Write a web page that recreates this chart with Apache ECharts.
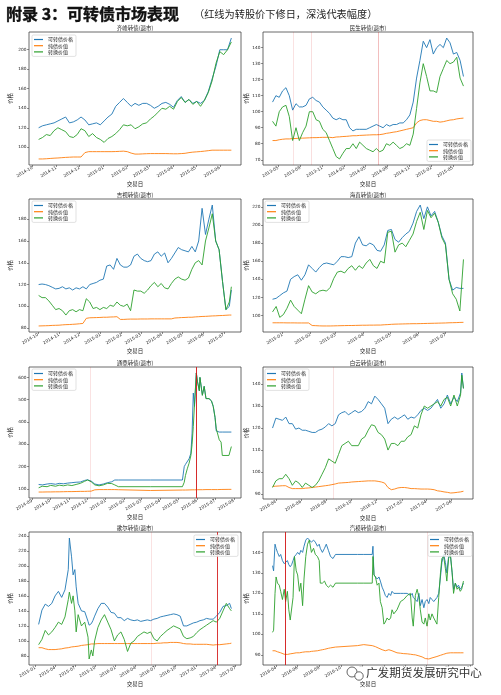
<!DOCTYPE html>
<html><head><meta charset="utf-8">
<script src="https://cdn.jsdelivr.net/npm/echarts@6/dist/echarts.min.js"></script>
<style>html,body{margin:0;padding:0;background:#fff;}#c{width:501px;height:695px;}</style>
</head><body><div id="c"></div>
<script>
// ---------------- DATA ----------------
const seriesNames = ['可转债价格', '纯债价值', '转换价值'];

// Chart 1
const c1Title = '齐峰转债(退市)';
const c1Dates = ['2014-10-09','2014-10-14','2014-10-19','2014-10-24','2014-10-29','2014-11-03','2014-11-08','2014-11-13','2014-11-18','2014-11-23','2014-11-28','2014-12-03','2014-12-08','2014-12-13','2014-12-18','2014-12-23','2014-12-28','2015-01-02','2015-01-07','2015-01-12','2015-01-17','2015-01-22','2015-01-27','2015-02-01','2015-02-06','2015-02-11','2015-02-16','2015-02-21','2015-02-26','2015-03-03','2015-03-08','2015-03-13','2015-03-18','2015-03-23','2015-03-28','2015-04-02','2015-04-07','2015-04-12','2015-04-17','2015-04-22','2015-04-27','2015-05-02','2015-05-07','2015-05-12','2015-05-17','2015-05-22','2015-05-27','2015-06-01','2015-06-06','2015-06-11','2015-06-16'];
const c1Cb = [120,122,123,124,125,127,129,131,125,126,128,131,128,123,124,125,123,127,131,134,142,146,150,146,142,145,143,145,145,143,140,142,145,146,144,141,148,152,146,149,145,147,145,148,157,170,183,200,200,200,212];
const c1Bond = [88,88,88.2,88.5,88.8,89,89.3,89.6,89.8,90,90,90,94.5,95.5,95.5,95.5,95.5,95.5,95.5,95.5,95.6,95.8,96,95.5,94,93,93,93.2,93.4,93.5,93.5,93.5,93.5,93.5,93.4,93.3,93.3,93.5,93.8,94.5,95,95.3,95.6,96,96.5,97,97,97,97,97,97];
const c1Conv = [108,110,113,112,117,120,118,116,111,110,113,119,117,111,114,110,108,105,109,111,114,118,123,122,123,119,121,124,125,129,132,136,140,139,142,139,147,151,146,149,144,147,142,148,156,168,186,198,195,200,208];
const c1XTicks = ['2014-10','2014-11','2014-12','2015-01','2015-02','2015-03','2015-04','2015-05','2015-06'];
const c1YTicks = [100,120,140,160,180,200];
const c1Resets = [];

// Chart 2
const c2Title = '民生转债(退市)';
const c2Dates = ['2013-04-07','2013-04-21','2013-05-05','2013-05-19','2013-06-02','2013-06-16','2013-06-30','2013-07-14','2013-07-28','2013-08-11','2013-08-25','2013-09-08','2013-09-22','2013-10-06','2013-10-20','2013-11-03','2013-11-17','2013-12-01','2013-12-15','2013-12-29','2014-01-12','2014-01-26','2014-02-09','2014-02-23','2014-03-09','2014-03-23','2014-04-06','2014-04-20','2014-05-04','2014-05-18','2014-06-01','2014-06-15','2014-06-29','2014-07-13','2014-07-27','2014-08-10','2014-08-24','2014-09-07','2014-09-21','2014-10-05','2014-10-19','2014-11-02','2014-11-16','2014-11-30','2014-12-14','2014-12-28','2015-01-11','2015-01-25','2015-02-08','2015-02-22','2015-03-08','2015-03-22','2015-04-05','2015-04-19','2015-05-03','2015-05-17','2015-05-31','2015-06-14'];
const c2Cb = [106,110,109,113,115,110,101,105,103,103,104,108,109,107,106,103,101,99,96,95,96,95,95,90,88,89,89,89,89,90,91,92,91,90,92,91,92,92,93,93,95,98,106,121,132,144,140,145,136,140,142,140,146,143,136,137,132,122];
const c2Bond = [82,82,82.5,82.8,83,83,83.2,83.3,83.5,83.5,83.6,83.7,83.8,83.8,83.9,84,84,84,83.8,84.2,84.3,84.5,84.6,84.8,85,85,85.2,85.3,85.4,85.5,85.6,85.6,85.7,86,86.5,86.8,87.2,87.5,88,88.5,89,89.5,90,93,94.5,95,95,94.5,94,94,93.5,93.8,94.3,94.8,95,95.5,95.8,96];
const c2Conv = [94,91,100,103,104,97,82,90,82,87,91,100,100,95,94,89,87,82,77,72,70.5,74,77,77,80,77,81,79,77,76,75,77,75,76,80,79,81,79,77,78,80,79,86,102,118,130,122,113,113,112,122,127,132,130,131,134,121,116];
const c2XTicks = ['2013-05','2013-08','2013-11','2014-02','2014-05','2014-08','2014-11','2015-02','2015-05','2015-08'];
const c2YTicks = [70,80,90,100,110,120,130,140];
const c2Resets = [['2013-07-03',0.12],['2013-09-14',0.14],['2014-06-24',0.28]];

// Chart 3
const c3Title = '吉视转债(退市)';
const c3Dates = ['2014-10-02','2014-10-07','2014-10-12','2014-10-17','2014-10-22','2014-10-27','2014-11-01','2014-11-06','2014-11-11','2014-11-16','2014-11-21','2014-11-26','2014-12-01','2014-12-06','2014-12-11','2014-12-16','2014-12-21','2014-12-26','2014-12-31','2015-01-05','2015-01-10','2015-01-15','2015-01-20','2015-01-25','2015-01-30','2015-02-04','2015-02-09','2015-02-14','2015-02-19','2015-02-24','2015-03-01','2015-03-06','2015-03-11','2015-03-16','2015-03-21','2015-03-26','2015-03-31','2015-04-05','2015-04-10','2015-04-15','2015-04-20','2015-04-25','2015-04-30','2015-05-05','2015-05-10','2015-05-15','2015-05-20','2015-05-25','2015-05-30','2015-06-04','2015-06-09','2015-06-14','2015-06-19','2015-06-24','2015-06-29','2015-07-04','2015-07-09','2015-07-12'];
const c3Cb = [120,120.5,120,119,117.5,116,116.5,118,116,117,115,117,116,118,116,120,121,122,124,125,137,138,134,144,138,136,136,138,146,148,144,142,141,142,148,150,146,149,140,144,149,154,152,151,150,155,150,160,190,166,180,193,160,152,123,97,100,115];
const c3Bond = [82,82.1,82.2,82.3,82.5,82.6,82.7,83,83.2,83.3,83.5,83.7,84,84.3,89,89.5,89.6,89.7,89.8,90,90,90.2,90.3,90.5,88,88,88.2,88.3,88.3,88.3,88.4,88.4,88.4,88.5,88.5,88.5,88.5,88.5,88.5,88.5,89.3,89.5,89.7,89.8,90,90,90.3,90.5,90.7,90.8,91,91.2,91.3,91.5,91.6,91.8,92,92];
const c3Conv = [110,108,108,105,101,97,98,96,92,96,97,95,97,96,107,104,98,99,97,99,98,101,100,104,101,100,102,96,115,114,114,112,115,119,122,118,121,117,116,121,125,127,125,124,126,134,140,142,138,160,172,185,160,152,123,97,104,118];
const c3XTicks = ['2014-10','2014-11','2014-12','2015-01','2015-02','2015-03','2015-04','2015-05','2015-06','2015-07'];
const c3YTicks = [80,100,120,140,160,180];
const c3Resets = [];

// Chart 4
const c4Title = '海直转债(退市)';
const c4Dates = ['2014-12-21','2014-12-25','2014-12-29','2015-01-02','2015-01-06','2015-01-10','2015-01-14','2015-01-18','2015-01-22','2015-01-26','2015-01-30','2015-02-03','2015-02-07','2015-02-11','2015-02-15','2015-02-19','2015-02-23','2015-02-27','2015-03-03','2015-03-07','2015-03-11','2015-03-15','2015-03-19','2015-03-23','2015-03-27','2015-03-31','2015-04-04','2015-04-08','2015-04-12','2015-04-16','2015-04-20','2015-04-24','2015-04-28','2015-05-02','2015-05-06','2015-05-10','2015-05-14','2015-05-18','2015-05-22','2015-05-26','2015-05-30','2015-06-03','2015-06-07','2015-06-11','2015-06-15','2015-06-19','2015-06-23','2015-06-27','2015-07-01','2015-07-05','2015-07-09','2015-07-13','2015-07-17','2015-07-21'];
const c4Cb = [118,119,122,125,127,140,143,145,139,145,156,152,148,153,157,158,157,156,160,165,165,164,165,180,187,178,177,180,178,172,171,178,194,195,184,181,186,190,193,202,215,222,207,220,210,215,203,188,180,140,128,131,130,130];
const c4Bond = [92,92,92,92,91.9,91.9,91.9,91.8,91.8,91.8,91.8,89,88.8,88.6,88.5,88.5,88.5,88.6,88.7,88.8,88.9,89,89,89.1,89.2,89.3,89.3,89.4,89.4,89.5,89.5,89.8,90,90.3,90.5,90.6,90.7,90.8,90.9,91,91,91.1,91.2,91.3,91.4,91.5,91.6,91.7,91.8,92,92.1,92.2,92.4,92.5];
const c4Conv = [104,110,98,101,108,117,110,106,102,118,133,126,124,127,128,127,131,141,148,149,147,152,155,150,155,152,158,162,155,152,160,158,192,193,170,178,180,176,183,190,204,214,195,216,208,213,203,186,178,140,124,118,105,162];
const c4XTicks = ['2015-01','2015-02','2015-03','2015-04','2015-05','2015-06','2015-07'];
const c4YTicks = [100,120,140,160,180,200,220];
const c4Resets = [];

// Chart 5
const c5Title = '通鼎转债(退市)';
const c5Dates = ['2014-09-12','2014-09-18','2014-09-26','2014-10-02','2014-10-10','2014-10-16','2014-10-23','2014-10-30','2014-11-06','2014-11-13','2014-11-20','2014-11-27','2014-12-02','2014-12-08','2014-12-14','2014-12-21','2014-12-28','2015-01-04','2015-01-11','2015-01-16','2015-01-22','2015-03-16','2015-05-08','2015-05-11','2015-05-13','2015-05-16','2015-05-19','2015-05-22','2015-05-24','2015-05-26','2015-05-28','2015-05-31','2015-06-02','2015-06-05','2015-06-06','2015-06-10','2015-06-13','2015-06-16','2015-06-21','2015-06-25','2015-06-28','2015-07-01','2015-07-03','2015-07-05','2015-07-08','2015-07-11','2015-07-13','2015-07-24','2015-07-28'];
const c5Cb = [120,118,122,124,121,125,123,126,128,130,131,138,141,135,122,118,122,128,132,140,140,140,140,200,210,218,235,260,350,530,470,620,580,540,600,520,560,505,505,495,470,420,360,355,355,355,355,355,355];
const c5Bond = [86,86,86.5,86.5,87,87,87.5,88,88,88.5,89,89,89.5,90,96,97,97,97,97,97,96.5,93,95,95,95,95.5,95.5,96,96,96,96,96.5,96.5,96.5,96.5,96.5,97,97,97,97,97,97,97,97,97.5,97.5,97.5,98,98];
const c5Conv = [105,112,110,116,112,117,114,118,115,120,125,134,140,132,118,114,118,125,124,118,110,110,110,130,160,190,215,250,300,380,480,620,580,540,600,520,560,505,505,495,470,420,370,378,320,310,250,250,290];
const c5XTicks = ['2014-09','2014-10','2014-11','2014-12','2015-01','2015-02','2015-03','2015-04','2015-05','2015-06','2015-07','2015-08'];
const c5YTicks = [100,200,300,400,500,600];
const c5Resets = [['2014-12-07',0.12],['2015-05-31',0.9]];

// Chart 6
const c6Title = '白云转债(退市)';
const c6Dates = ['2016-03-24','2016-04-01','2016-04-09','2016-04-17','2016-04-25','2016-05-03','2016-05-11','2016-05-19','2016-05-27','2016-06-04','2016-06-12','2016-06-20','2016-06-28','2016-07-06','2016-07-14','2016-07-22','2016-07-30','2016-08-07','2016-08-15','2016-08-23','2016-08-31','2016-09-08','2016-09-16','2016-09-24','2016-10-02','2016-10-10','2016-10-18','2016-10-26','2016-11-03','2016-11-11','2016-11-19','2016-11-27','2016-12-05','2016-12-13','2016-12-21','2016-12-29','2017-01-06','2017-01-14','2017-01-22','2017-01-30','2017-02-07','2017-02-15','2017-02-23','2017-03-03','2017-03-11','2017-03-19','2017-03-27','2017-04-04','2017-04-12','2017-04-20','2017-04-28','2017-05-06','2017-05-14','2017-05-22','2017-05-30','2017-06-07','2017-06-15','2017-06-23','2017-06-26','2017-06-30'];
const c6Cb = [120,124.5,124,123.5,125,122,122,119.5,120,119,119,118.5,118,118,119,119.5,120.5,122,121,122,126,127,127.5,126,127,128,127,127.5,129,132,131,134.5,133,131,129,122,124,125,124,125,126,124,125,124.5,126,128,129,128,129,131,133,129,131,135,131,134,132,136,145,138];
const c6Bond = [93.5,93.6,93.7,93.8,93.8,93,92.5,92.5,92.5,92.5,92.7,92.8,93,93.2,93.4,93.6,93.8,94,94.3,94.6,95,95.1,95.2,95.3,95.5,95.6,95.7,95.8,95.9,96,96,96,95.8,95.5,95,93,92,92.3,92.8,93,93,92.8,92.5,92.5,92.4,92.3,92.3,92.3,92.2,92,91.5,91.3,91,90.8,90.5,90.6,90.8,91,91.2,91.3];
const c6Conv = [93,96,97,97,99,97,94,96,95,93,95,94,93,94,96,99,102,106,105,104,108,112,113,114,112,112,112,115,116,119,121.5,121,118,117,115,110,113,113,112,114,114,116,117,121,120,126,130,129,130,131,132,130,133,134,130,135,130,135,144,138];
const c6XTicks = ['2016-04','2016-06','2016-08','2016-10','2016-12','2017-02','2017-04','2017-06'];
const c6YTicks = [90,100,110,120,130,140];
const c6Resets = [['2016-08-19',0.13]];

// Chart 7
const c7Title = '歌尔转债(退市)';
const c7Dates = ['2015-01-16','2015-01-31','2015-02-15','2015-03-02','2015-03-17','2015-04-01','2015-04-16','2015-05-01','2015-05-16','2015-05-31','2015-06-05','2015-06-15','2015-06-22','2015-06-30','2015-07-06','2015-07-15','2015-07-30','2015-08-14','2015-08-29','2015-09-03','2015-09-13','2015-09-20','2015-09-28','2015-10-13','2015-10-28','2015-11-12','2015-11-27','2015-12-12','2015-12-27','2016-01-11','2016-01-26','2016-02-10','2016-02-25','2016-03-11','2016-03-26','2016-04-10','2016-04-25','2016-05-10','2016-05-25','2016-06-09','2016-06-24','2016-07-09','2016-07-24','2016-08-08','2016-08-23','2016-09-07','2016-09-22','2016-10-07','2016-10-22','2016-11-06','2016-11-21','2016-12-06','2016-12-21','2017-01-05','2017-01-20','2017-02-04','2017-02-19','2017-03-06','2017-03-21','2017-04-05','2017-04-20','2017-05-05','2017-05-20','2017-06-04','2017-06-12'];
const c7Cb = [122,141,149,146,150,160,166,158,168,195,237,212,188,195,172,150,140,139,126,121,123,127,133,143,150,150,145,138,137,131,131,127,130,128,127,128,126,127,128,127,129,130,132,133,134,135,136,135,133,120,120,122,124,125,127,128,130,129,129,133,138,146,147,150,143];
const c7Bond = [91,91,89.5,88.5,88.5,88.5,89,89.5,90.5,91,91.5,92,92,92.5,93,93,94,94.5,95,95.5,96,96,96,96.5,96.5,96.5,96.5,96.5,96.5,96.5,96.5,96.5,96.5,96.5,96.5,96.5,96.5,96.5,96.5,96.5,96.5,97,97,97.5,97.5,98,98,98,97.5,96.5,96,96,95.5,95.5,95.5,95.5,95.5,95,94.5,95,95,95.5,96,96.5,97];
const c7Conv = [95,102,114,108,112,118,125,122,132,155,165,150,160,140,112,135,120,125,105,76,88,80,100,118,128,135,125,115,100,108,112,102,86,97,100,106,109,112,110,112,103,100,106,110,114,117,120,118,116,106,103,104,106,111,115,118,121,124,127,125,130,140,150,143,140];
const c7XTicks = ['2015-01','2015-04','2015-07','2015-10','2016-01','2016-04','2016-07','2016-10','2017-01','2017-04','2017-07'];
const c7YTicks = [80,100,120,140,160,180,200,220,240];
const c7Resets = [['2016-06-10',0.12],['2017-04-09',0.85]];

// Chart 8
const c8Title = '汽模转债(退市)';
const c8Dates = ['2016-03-22','2016-03-25','2016-03-29','2016-04-01','2016-04-05','2016-04-10','2016-04-14','2016-04-19','2016-04-24','2016-04-28','2016-05-03','2016-05-07','2016-05-11','2016-05-15','2016-05-19','2016-05-23','2016-05-28','2016-06-01','2016-06-06','2016-06-10','2016-06-15','2016-06-19','2016-06-24','2016-06-29','2016-07-04','2016-07-10','2016-07-16','2016-07-21','2016-07-27','2016-08-01','2016-08-04','2016-08-10','2016-08-16','2016-08-21','2016-08-27','2016-09-02','2016-09-09','2016-09-16','2016-11-17','2016-12-05','2016-12-29','2016-12-31','2017-01-03','2017-01-07','2017-01-12','2017-01-17','2017-01-21','2017-01-26','2017-01-31','2017-02-04','2017-02-09','2017-02-14','2017-02-19','2017-02-23','2017-02-28','2017-03-09','2017-03-19','2017-03-28','2017-04-07','2017-04-16','2017-04-21','2017-04-24','2017-04-30','2017-05-05','2017-05-10','2017-05-14','2017-05-19','2017-05-24','2017-05-28','2017-06-02','2017-06-07','2017-06-11','2017-06-16','2017-06-21','2017-06-30','2017-07-05','2017-07-10','2017-07-14','2017-07-19','2017-07-24','2017-07-28','2017-08-02','2017-08-07','2017-08-12','2017-08-16','2017-08-21','2017-08-26','2017-08-30','2017-09-04','2017-09-08','2017-09-13'];
const c8Cb = [133.5,131,144,142,140,138,139,136,134.5,135,136,134,133,134,136,138,139,140,139,141,140,143,146,147,147,145,146,145,143,144,142,140,142,144,141,138,137,139,139,139,139,143,129,129,127,128,126,123,121,119,118,120,119,121,120,120,120,120,120,119,120,118,117,116,120,114,117,113,116,117,115,118,117,116,118,120,128,135,139,135,130,138,139,130,122,125,123,124,122,123,125];
const c8Bond = [92,92,92,91.8,91.5,91.2,91,90.5,90.3,90,90.2,90.3,90.5,90.6,90.7,90.8,91,91,91,91.2,91.3,91.3,91.5,91.5,91.5,91.7,91.8,92,92,92.2,92.3,92.5,92.7,93,93.2,93.4,93.6,93.8,94.5,95,94.5,94.5,94.3,94,93.5,93.2,93,92.5,92,92,92.3,92.5,92.3,92,91.5,91,90.8,90.6,90.5,90.3,90.2,90.1,90,89.8,89.5,89.2,89,88.5,88.2,88,88,88.3,88.5,88.8,89.2,89.5,89.8,90,90.3,90.5,90.8,91,91,91,91,91,91,91,91,91,91];
const c8Conv = [101,102,120,128,125,124,121,117,122,116,121,112,107,107,118,138,131,129,121,125,114,127,138,144,146,140,142,139,138,136,125,125,126,124,123,124,123,125,125,125,125,138,129,128,124,125,116,113,105,106,108,107,108,112,110,112,116,117,119,120,108,104,119,122,118,112,106,105,108,104,110,107,110,108,105,118,130,137,138,132,126,137,139,130,120,125,122,123,121,122,126];
const c8XTicks = ['2016-04','2016-06','2016-08','2016-10','2016-12','2017-02','2017-04','2017-06','2017-08','2017-10'];
const c8YTicks = [90,100,110,120,130,140,150];
const c8Resets = [['2016-04-28',0.9],['2017-06-04',0.12]];

// ---------------- LAYOUT / STYLE ----------------
const FONT = '"DejaVu Sans","Noto Sans CJK SC",sans-serif';
const CJK = '"Noto Sans CJK SC","DejaVu Sans",sans-serif';
const COLORS = ['#1f77b4', '#ff7f0e', '#2ca02c'];
const layout = [
  {left: 29, top: 32, width: 212, height: 133, legend: {left: 32, top: 35}, yGap: 16},
  {left: 263, top: 32, width: 210, height: 133, legend: {right: 30, top: 140}, yGap: 12},
  {left: 29, top: 199, width: 212, height: 133, legend: {left: 32, top: 201}, yGap: 16},
  {left: 263, top: 199, width: 210, height: 133, legend: {left: 265, top: 201}, yGap: 12},
  {left: 29, top: 367, width: 212, height: 131, legend: {left: 32, top: 369}, yGap: 16},
  {left: 263, top: 367, width: 210, height: 132, legend: {left: 265, top: 369}, yGap: 12},
  {left: 29, top: 532, width: 212, height: 133, legend: {right: 263, top: 535}, yGap: 16},
  {left: 263, top: 532, width: 210, height: 133, legend: {right: 29, top: 535}, yGap: 12}
];

const charts = [
  {title: c1Title, dates: c1Dates, cb: c1Cb, bond: c1Bond, conv: c1Conv, xt: c1XTicks, yt: c1YTicks, resets: c1Resets},
  {title: c2Title, dates: c2Dates, cb: c2Cb, bond: c2Bond, conv: c2Conv, xt: c2XTicks, yt: c2YTicks, resets: c2Resets},
  {title: c3Title, dates: c3Dates, cb: c3Cb, bond: c3Bond, conv: c3Conv, xt: c3XTicks, yt: c3YTicks, resets: c3Resets},
  {title: c4Title, dates: c4Dates, cb: c4Cb, bond: c4Bond, conv: c4Conv, xt: c4XTicks, yt: c4YTicks, resets: c4Resets},
  {title: c5Title, dates: c5Dates, cb: c5Cb, bond: c5Bond, conv: c5Conv, xt: c5XTicks, yt: c5YTicks, resets: c5Resets},
  {title: c6Title, dates: c6Dates, cb: c6Cb, bond: c6Bond, conv: c6Conv, xt: c6XTicks, yt: c6YTicks, resets: c6Resets},
  {title: c7Title, dates: c7Dates, cb: c7Cb, bond: c7Bond, conv: c7Conv, xt: c7XTicks, yt: c7YTicks, resets: c7Resets},
  {title: c8Title, dates: c8Dates, cb: c8Cb, bond: c8Bond, conv: c8Conv, xt: c8XTicks, yt: c8YTicks, resets: c8Resets}
];

function ts(s) { const p = s.split('-').map(Number); return Date.UTC(p[0], p[1] - 1, p[2] || 1); }
function fmt(v) { const d = new Date(v); const m = d.getUTCMonth() + 1; return d.getUTCFullYear() + '-' + (m < 10 ? '0' : '') + m; }

const option = {
  animation: false, backgroundColor: '#ffffff',
  grid: [], xAxis: [], yAxis: [], series: [], legend: [], graphic: []
};

charts.forEach(function (c, i) {
  const L = layout[i];
  const n = Math.min(c.dates.length, c.cb.length, c.bond.length, c.conv.length);
  const xs = c.dates.slice(0, n).map(ts);
  const vals = [c.cb.slice(0, n), c.bond.slice(0, n), c.conv.slice(0, n)];
  const xmin0 = Math.min.apply(null, xs), xmax0 = Math.max.apply(null, xs);
  const xpad = (xmax0 - xmin0) * 0.05;
  const all = vals[0].concat(vals[1], vals[2]);
  const ymin0 = Math.min.apply(null, all), ymax0 = Math.max.apply(null, all);
  const ypad = (ymax0 - ymin0) * 0.05;
  const xmin = xmin0 - xpad, xmax = xmax0 + xpad, ymin = ymin0 - ypad, ymax = ymax0 + ypad;
  const xt = c.xt.map(ts).filter(function (v) { return v >= xmin && v <= xmax; });
  const yt = c.yt.filter(function (v) { return v >= ymin && v <= ymax; });

  option.grid.push({left: L.left, top: L.top, width: L.width, height: L.height, show: true,
    borderColor: '#444', borderWidth: 0.8, backgroundColor: 'transparent'});
  option.xAxis.push({
    type: 'value', gridIndex: i, min: xmin, max: xmax, scale: true,
    axisLine: {show: false}, splitLine: {show: false},
    axisTick: {show: true, customValues: xt, length: 2, lineStyle: {color: '#444', width: 0.6}},
    axisLabel: {customValues: xt, formatter: fmt, rotate: 30, fontSize: 4.3, color: '#222', margin: 2.5, fontFamily: FONT},
    name: '交易日', nameLocation: 'middle', nameGap: 16,
    nameTextStyle: {fontSize: 5.5, color: '#222', fontFamily: CJK}
  });
  option.yAxis.push({
    type: 'value', gridIndex: i, min: ymin, max: ymax, scale: true,
    axisLine: {show: false}, splitLine: {show: false},
    axisTick: {show: true, customValues: yt, length: 2, lineStyle: {color: '#444', width: 0.6}},
    axisLabel: {customValues: yt, fontSize: 4.3, color: '#222', margin: 2.5, fontFamily: FONT},
    name: '价格', nameLocation: 'middle', nameGap: L.yGap, nameRotate: 90,
    nameTextStyle: {fontSize: 5.5, color: '#222', fontFamily: CJK}
  });
  vals.forEach(function (arr, j) {
    const s = {
      type: 'line', name: seriesNames[j], xAxisIndex: i, yAxisIndex: i,
      data: xs.map(function (x, k) { return [x, arr[k]]; }),
      showSymbol: false, symbol: 'none', z: 2 + j,
      lineStyle: {width: 0.9, color: COLORS[j]}, itemStyle: {color: COLORS[j]}
    };
    if (j === 2 && c.resets.length) {
      s.markLine = {
        silent: true, symbol: ['none', 'none'], label: {show: false}, animation: false,
        data: c.resets.map(function (r) {
          return {xAxis: ts(r[0]), lineStyle: {color: 'rgba(210,20,20,' + r[1] + ')', width: 1, type: 'solid'}};
        })
      };
    }
    option.series.push(s);
  });
  const lg = Object.assign({
    data: seriesNames, orient: 'vertical', icon: 'rect', itemWidth: 9, itemHeight: 1.2, itemGap: 1.2,
    padding: [2, 3, 2, 2], borderColor: '#ccc', borderWidth: 0.6, borderRadius: 1.5,
    backgroundColor: 'rgba(255,255,255,0.85)', selectedMode: false, z: 10,
    textStyle: {fontSize: 5, color: '#222', fontFamily: CJK}
  }, L.legend);
  option.legend.push(lg);
  option.graphic.push({type: 'text', x: L.left + L.width / 2, y: L.top - 4.3, z: 50,
    style: {text: c.title, align: 'center', verticalAlign: 'middle', font: '5.5px ' + CJK, fill: '#222'}});
});

// header
option.graphic.push({type: 'text', x: 6, y: 14, z: 50,
  style: {text: '附录 3：可转债市场表现', verticalAlign: 'middle', font: 'bold 16px ' + CJK, fill: '#111', stroke: '#111', lineWidth: 0.4}});
option.graphic.push({type: 'text', x: 194, y: 14.5, z: 50,
  style: {text: '（红线为转股价下修日，深浅代表幅度）', verticalAlign: 'middle', font: '10.2px ' + CJK, fill: '#222'}});
// watermark
option.graphic.push({type: 'rect', shape: {x: 342, y: 666.5, width: 148, height: 14.5}, z: 100, style: {fill: '#fff'}});
option.graphic.push({type: 'circle', shape: {cx: 352, cy: 672, r: 5}, z: 101, style: {fill: 'none', stroke: '#555', lineWidth: 0.9}});
option.graphic.push({type: 'circle', shape: {cx: 359, cy: 676, r: 4.2}, z: 101, style: {fill: '#fff', stroke: '#555', lineWidth: 0.9}});
option.graphic.push({type: 'text', x: 366, y: 673, z: 102,
  style: {text: '广发期货发展研究中心', verticalAlign: 'middle', font: '11.6px ' + CJK, fill: '#333'}});

const chart = echarts.init(document.getElementById('c'), null, {renderer: 'canvas', width: 501, height: 695});
chart.setOption(option);
</script>
</body></html>
